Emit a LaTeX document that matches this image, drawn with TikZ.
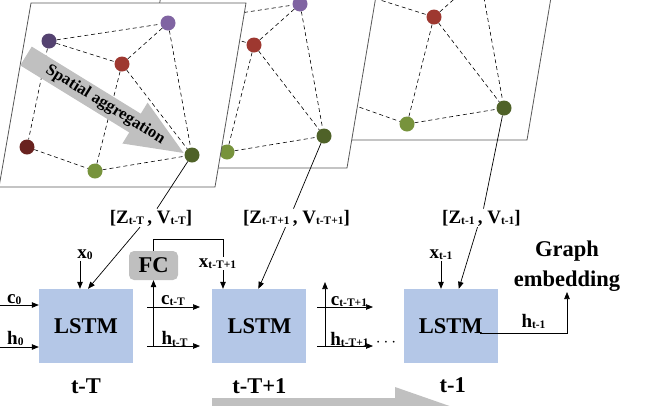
\documentclass[tikz,border=0pt]{standalone}
\usepackage{fontspec}
\setmainfont{Liberation Serif}
\usetikzlibrary{arrows.meta,positioning,calc}
\definecolor{lstmCol}{RGB}{180,199,231}
\definecolor{fcCol}{RGB}{191,191,191}
\definecolor{arrCol}{RGB}{192,192,192}
\definecolor{dpurCol}{RGB}{84,66,112}
\definecolor{lpurCol}{RGB}{128,100,162}
\definecolor{redCol}{RGB}{158,56,48}
\definecolor{dredCol}{RGB}{105,35,32}
\definecolor{lgrnCol}{RGB}{119,147,60}
\definecolor{dgrnCol}{RGB}{79,98,40}
\newcommand{\vlab}[2]{#1\raisebox{-1.5pt}{\fontsize{11.5}{12}\selectfont #2}}
\tikzset{
  sheet/.style={draw=black!65,fill=white,line width=0.8pt},
  vtx/.style={circle,inner sep=0pt,minimum size=15pt},
  link/.style={dash pattern=on 4pt off 3pt,line width=0.6pt},
  fl/.style={-{Triangle[length=7pt,width=5.5pt]},line width=0.7pt},
  lab/.style={font=\fontsize{19}{22}\selectfont\bfseries,inner sep=1pt},
  ttl/.style={font=\fontsize{22.5}{30}\selectfont\bfseries,align=center,inner sep=0pt},
}

\begin{document}
\begin{tikzpicture}[x=1pt,y=-1pt,
    lstm/.style={fill=lstmCol,minimum width=94pt,minimum height=74pt,inner sep=0pt,
                 font=\fontsize{22.5}{27}\selectfont\bfseries},
    fcbox/.style={fill=fcCol,rounded corners=5pt,minimum width=49pt,minimum height=29pt,
                  inner sep=0pt,font=\fontsize{22.5}{27}\selectfont\bfseries},
    node distance=79pt]
  \useasboundingbox (0,0) rectangle (645,405);
  \clip (0,0) rectangle (645,405);
  % --- graph snapshots, back to front ---
  \foreach \dx/\dy/\p in {312/-47/c,132/-19/b,0/0/a}{
    \begin{scope}[shift={(\dx,\dy)}]
      \draw[sheet] (-1,187) -- (215,187) -- (246,3) -- (31,3) -- cycle;
      \node[vtx,fill=dpurCol] (dp\p) at (49,41) {};
      \node[vtx,fill=lpurCol] (lp\p) at (168,23) {};
      \node[vtx,fill=redCol] (rd\p) at (122,64) {};
      \node[vtx,fill=dredCol] (dr\p) at (27,147) {};
      \node[vtx,fill=lgrnCol] (lg\p) at (95,171) {};
      \node[vtx,fill=dgrnCol] (dg\p) at (192,155) {};
      \foreach \a/\b in {dp/lp,dp/rd,lp/rd,lp/dg,rd/dg,rd/lg,dp/dr,dr/lg,lg/dg}
        \draw[link] (\a\p) -- (\b\p);
    \end{scope}
  }
  % --- spatial aggregation arrow ---
  \begin{scope}[shift={(26,56)},rotate=-31.6]
    \fill[arrCol] (0,-11) -- (128,-11) -- (128,-24) -- (185,0) -- (128,24) -- (128,11) -- (0,11) -- cycle;
    \node[rotate=-31.6,font=\fontsize{16.5}{18}\selectfont\bfseries] (spa) at (93,0) {Spatial aggregation};
  \end{scope}
  % --- LSTM chain ---
  \node[lstm] (lstm1) at (86,326) {LSTM};
  \node[lstm,right=of lstm1] (lstm2) {LSTM};
  \node[lstm,right=97pt of lstm2] (lstm3) {LSTM};
  \node[ttl,anchor=base] (tm1) at ([yshift=-30pt]lstm1.south) {t-T};
  \node[ttl,anchor=base] (tm2) at ([yshift=-30pt]lstm2.south) {t-T+1};
  \node[ttl,anchor=base] (tm3) at ([xshift=2pt,yshift=-29pt]lstm3.south) {t-1};
  % --- first cell inputs ---
  \coordinate (c0s) at (0,305);
  \coordinate (h0s) at (0,347);
  \draw[fl] (c0s) -- (c0s -| lstm1.west);
  \draw[fl] (h0s) -- (h0s -| lstm1.west);
  \node[lab,anchor=base west] (c0) at (6,303) {\vlab{c}{0}};
  \node[lab,anchor=base west] (h0) at (6,344) {\vlab{h}{0}};
  \node[lab,anchor=base] (x0) at (85,258) {\vlab{x}{0}};
  \draw[fl] ([xshift=-5pt]x0.south) -- ([xshift=-5pt]x0.south |- lstm1.north);
  % --- states between cell 1 and 2, FC feedback ---
  \coordinate (cA) at (147,307); \coordinate (cB) at (200,307);
  \coordinate (hA) at (147,346); \coordinate (hB) at (200,346);
  \draw[fl] (cA) -- (cB);
  \draw[fl] (hA) -- (hB);
  \node[lab,anchor=base] (c1) at (173,304) {\vlab{c}{t-T}};
  \node[lab,anchor=base] (h1) at (174.5,344.5) {\vlab{h}{t-T}};
  \node[fcbox] (fc) at (153.5,265.5) {FC};
  \draw[fl] (fc.south |- hA) -- (fc.south);
  \coordinate (fb) at (223,239);
  \draw[fl] (fc.north) |- (fb) -- (fb |- lstm2.north);
  \node[lab,anchor=base,fill=white] (x1) at (217.5,267) {\vlab{x}{t-T+1}};
  % --- states between cell 2 and 3 ---
  \coordinate (cC) at (317,307); \coordinate (cD) at (373,307);
  \coordinate (hC) at (317,346); \coordinate (hD) at (373,346);
  \coordinate (up2) at (325,282);
  \draw[fl] (cC) -- (cD);
  \draw[fl] (hC) -- (hD);
  \draw[fl] (up2 |- hC) -- (up2);
  \node[lab,anchor=base] (c2) at (349,305) {\vlab{c}{t-T+1}};
  \node[lab,anchor=base] (h2) at (349.5,345) {\vlab{h}{t-T+1}};
  \node[lab,anchor=base] (dots) at (386,346) {$\cdots$};
  % --- last cell ---
  \node[lab,anchor=base] (x3) at (441,258) {\vlab{x}{t-1}};
  \draw[fl] (x3.south) -- (x3.south |- lstm3.north);
  \node[ttl,anchor=south] (ge) at (567,292) {Graph\\embedding};
  \coordinate (hOut) at (480,333);
  \draw[fl] (hOut) -| (ge.south);
  \node[lab,anchor=base] (h3) at (533.5,327) {\vlab{h}{t-1}};
  % --- graph features into the cells ---
  \node[lab,anchor=base] (zv1) at (151,223) {[\vlab{Z}{t-T}\,, \vlab{V}{t-T}]};
  \node[lab,anchor=base] (zv2) at (296.5,223) {[\vlab{Z}{t-T+1}\,, \vlab{V}{t-T+1}]};
  \node[lab,anchor=base] (zv3) at (481.5,223) {[\vlab{Z}{t-1}\,, \vlab{V}{t-1}]};
  \draw[line width=0.7pt] (dga) -- ([xshift=6pt]zv1.north);
  \draw[fl] ([xshift=-11pt]zv1.south) -- ([xshift=2pt]lstm1.north);
  \draw[line width=0.7pt] (dgb) -- ([xshift=-3pt]zv2.north);
  \draw[fl] ([xshift=-11pt]zv2.south) -- ([xshift=-1pt]lstm2.north);
  \draw[line width=0.7pt] (dgc) -- ([xshift=2pt]zv3.north);
  \draw[fl] ([xshift=-4pt]zv3.south) -- ([xshift=8pt]lstm3.north);
  % --- temporal arrow (cut by the frame) ---
  \fill[arrCol] (212,398) -- (395,398) -- (395,387) -- (461,410) -- (395,433) -- (395,422) -- (212,422) -- cycle;
\end{tikzpicture}
\end{document}
